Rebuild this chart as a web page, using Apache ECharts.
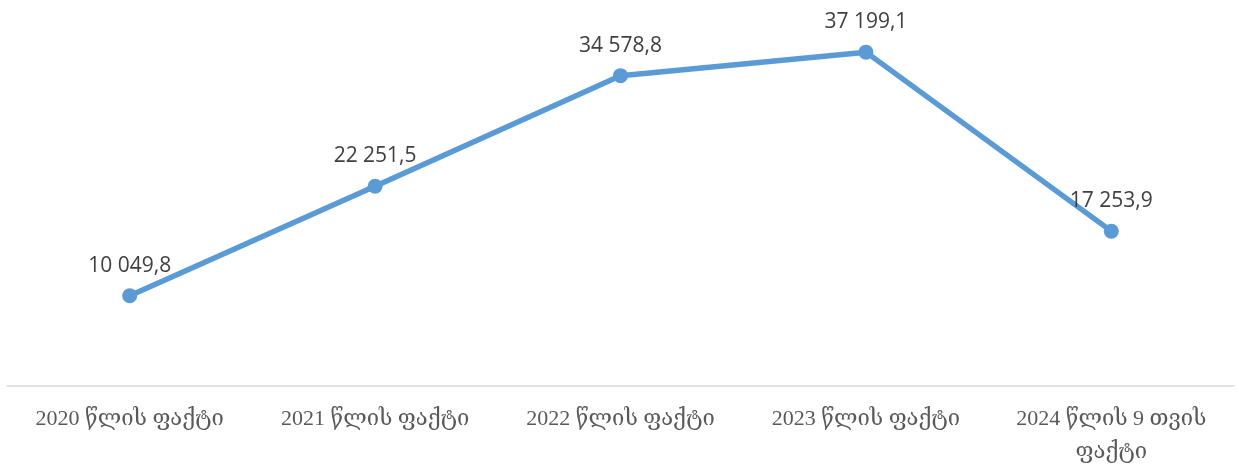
<!DOCTYPE html>
<html>
<head>
<meta charset="utf-8">
<script src="https://cdn.jsdelivr.net/npm/echarts@6/dist/echarts.min.js"></script>
<style>html,body{margin:0;padding:0;background:#fff;}#c{width:1239px;height:469px;}</style>
</head>
<body>
<div id="c"></div>
<script>
var categories = ["2020 წლის ფაქტი", "2021 წლის ფაქტი", "2022 წლის ფაქტი", "2023 წლის ფაქტი", "2024 წლის 9 თვის\nფაქტი"];
var values = [10049.8, 22251.5, 34578.8, 37199.1, 17253.9];

function fmt(v) {
  var parts = v.toFixed(1).split('.');
  var intPart = parts[0].replace(/\B(?=(\d{3})+(?!\d))/g, ' ');
  return intPart + ',' + parts[1];
}

var chart = echarts.init(document.getElementById('c'));
chart.setOption({
  animation: false,
  grid: { left: 7, right: 5, top: 27, bottom: 82, containLabel: false },
  xAxis: {
    type: 'category',
    data: categories,
    boundaryGap: true,
    axisLine: { lineStyle: { color: '#D9D9D9', width: 1.5 } },
    axisTick: { show: false },
    axisLabel: {
      interval: 0,
      hideOverlap: false,
      color: '#595959',
      fontFamily: '"Liberation Serif", "DejaVu Serif", serif',
      fontSize: 22,
      lineHeight: 33,
      margin: 17,
      overflow: 'none'
    }
  },
  yAxis: {
    type: 'value',
    min: 0,
    max: 40000,
    show: false,
    splitLine: { show: false }
  },
  series: [{
    type: 'line',
    data: values,
    lineStyle: { color: '#5B9BD5', width: 5.5 },
    itemStyle: { color: '#5B9BD5' },
    symbol: 'circle',
    symbolSize: 15,
    label: {
      show: true,
      position: 'top',
      distance: 12,
      color: '#404040',
      fontFamily: '"Open Sans", "Liberation Sans", sans-serif',
      fontSize: 21,
      formatter: function (p) { return fmt(p.value); }
    }
  }]
});
</script>
</body>
</html>
